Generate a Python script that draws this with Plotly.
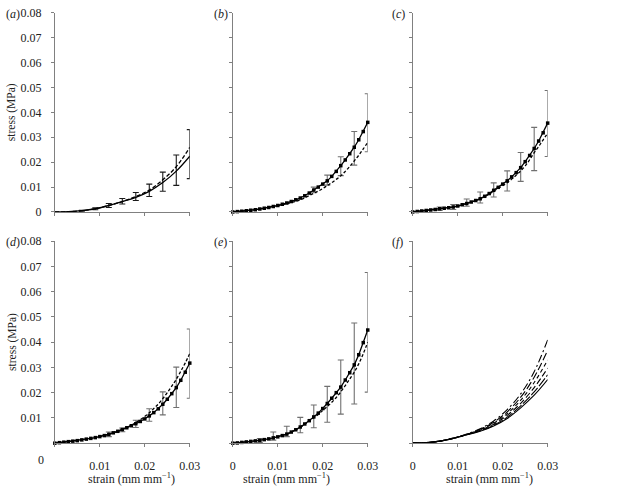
import plotly.graph_objects as go

W, H = 633, 490

# ---------------- data ----------------
strain_fine = [round(0.001 * i, 3) for i in range(31)]          # 0 .. 0.03 step 0.001
strain_coarse = [round(0.003 * i, 3) for i in range(11)]        # 0 .. 0.03 step 0.003

# (a) curves on coarse grid
a_solid = [0, 0.0001, 0.0005, 0.0013, 0.0026, 0.0042, 0.0059, 0.0083, 0.0118, 0.0164, 0.0224]
a_dashed = [0, 0.0001, 0.0005, 0.0013, 0.0026, 0.0042, 0.0062, 0.0088, 0.0129, 0.0182, 0.0260]
a_err_x = [0.006, 0.009, 0.012, 0.015, 0.018, 0.021, 0.024, 0.027, 0.030]
a_err_c = [0.0005, 0.0013, 0.0026, 0.0042, 0.0060, 0.0084, 0.0121, 0.0168, 0.0232]
a_err_top = [0.0007, 0.0017, 0.0034, 0.0054, 0.0078, 0.0112, 0.0160, 0.0229, 0.0331]
a_err_bot = [0.0003, 0.0009, 0.0018, 0.0032, 0.0046, 0.0062, 0.0083, 0.0107, 0.0134]

# (b)
b_solid = [0, 0.00015, 0.0003, 0.0005, 0.0007, 0.0009, 0.0012, 0.0015, 0.0018, 0.0022, 0.0026,
           0.0031, 0.0036, 0.0042, 0.0049, 0.0056, 0.0065, 0.0076, 0.0088, 0.0100, 0.0112,
           0.0125, 0.0143, 0.0163, 0.0186, 0.0209, 0.0234, 0.0260, 0.0290, 0.0323, 0.0360]
b_dashed = [0, 0.00015, 0.0003, 0.0005, 0.0007, 0.0009, 0.0012, 0.0015, 0.0018, 0.0021, 0.0025,
            0.0029, 0.0033, 0.0038, 0.0043, 0.0049, 0.0057, 0.0066, 0.0075, 0.0084, 0.0094,
            0.0106, 0.0118, 0.0131, 0.0145, 0.0163, 0.0183, 0.0205, 0.0228, 0.0253, 0.0280]
b_err_x = [0.018, 0.021, 0.024, 0.027, 0.030]
b_err_c = [0.0088, 0.0128, 0.0186, 0.0258, 0.0360]
b_err_top = [0.0100, 0.0148, 0.0222, 0.0323, 0.0475]
b_err_bot = [0.0077, 0.0108, 0.0146, 0.0188, 0.0242]

# (c)
c_solid = [0, 0.0002, 0.0004, 0.0006, 0.0008, 0.0010, 0.0013, 0.0015, 0.0017, 0.0020, 0.0024,
           0.0029, 0.0034, 0.0040, 0.0046, 0.0053, 0.0063, 0.0074, 0.0087, 0.0099, 0.0112,
           0.0125, 0.0141, 0.0158, 0.0178, 0.0202, 0.0227, 0.0255, 0.0285, 0.0318, 0.0357]
c_dashed = [0, 0.0002, 0.0004, 0.0006, 0.0008, 0.0010, 0.0013, 0.0015, 0.0017, 0.0020, 0.0024,
            0.0029, 0.0034, 0.0040, 0.0046, 0.0053, 0.0062, 0.0072, 0.0084, 0.0095, 0.0106,
            0.0118, 0.0132, 0.0148, 0.0165, 0.0185, 0.0210, 0.0238, 0.0263, 0.0290, 0.0316]
c_err_x = [0.006, 0.009, 0.012, 0.015, 0.018, 0.021, 0.024, 0.027, 0.030]
c_err_c = [0.0013, 0.0020, 0.0035, 0.0053, 0.0087, 0.0125, 0.0178, 0.0255, 0.0357]
c_err_top = [0.0020, 0.0030, 0.0052, 0.0080, 0.0117, 0.0165, 0.0239, 0.0340, 0.0488]
c_err_bot = [0.0006, 0.0010, 0.0023, 0.0036, 0.0060, 0.0084, 0.0123, 0.0166, 0.0223]

# (d)
d_solid = [0, 0.0002, 0.0004, 0.0006, 0.0008, 0.0010, 0.0013, 0.0016, 0.0019, 0.0022, 0.0026,
           0.0030, 0.0035, 0.0041, 0.0047, 0.0054, 0.0061, 0.0069, 0.0077, 0.0086, 0.0096,
           0.0108, 0.0121, 0.0136, 0.0154, 0.0174, 0.0196, 0.0220, 0.0249, 0.0281, 0.0317]
d_dashed = [0, 0.0002, 0.0004, 0.0006, 0.0008, 0.0010, 0.0013, 0.0016, 0.0019, 0.0022, 0.0026,
            0.0030, 0.0035, 0.0041, 0.0047, 0.0054, 0.0062, 0.0071, 0.0082, 0.0093, 0.0106,
            0.0120, 0.0137, 0.0155, 0.0176, 0.0200, 0.0226, 0.0253, 0.0285, 0.0318, 0.0355]
d_err_x = [0.012, 0.015, 0.018, 0.021, 0.024, 0.027, 0.030]
d_err_c = [0.0035, 0.0054, 0.0077, 0.0108, 0.0154, 0.0220, 0.0317]
d_err_top = [0.0044, 0.0060, 0.0091, 0.0136, 0.0203, 0.0301, 0.0452]
d_err_bot = [0.0026, 0.0045, 0.0062, 0.0087, 0.0112, 0.0141, 0.0178]

# (e)
e_solid = [0, 0.0001, 0.0003, 0.0005, 0.0007, 0.0009, 0.0011, 0.0014, 0.0017, 0.0021, 0.0025,
           0.0030, 0.0036, 0.0044, 0.0053, 0.0064, 0.0076, 0.0089, 0.0104, 0.0119, 0.0137,
           0.0157, 0.0178, 0.0200, 0.0222, 0.0250, 0.0279, 0.0310, 0.0350, 0.0398, 0.0448]
e_dashed = [0, 0.0001, 0.0003, 0.0005, 0.0007, 0.0009, 0.0011, 0.0014, 0.0017, 0.0021, 0.0025,
            0.0030, 0.0036, 0.0044, 0.0053, 0.0063, 0.0075, 0.0088, 0.0101, 0.0114, 0.0129,
            0.0145, 0.0162, 0.0181, 0.0203, 0.0228, 0.0254, 0.0281, 0.0314, 0.0354, 0.0400]
e_err_x = [0.006, 0.009, 0.012, 0.015, 0.018, 0.021, 0.024, 0.027, 0.030]
e_err_c = [0.0010, 0.0022, 0.0035, 0.0066, 0.0105, 0.0158, 0.0222, 0.0308, 0.0448]
e_err_top = [0.0018, 0.0044, 0.0067, 0.0102, 0.0151, 0.0225, 0.0329, 0.0476, 0.0676]
e_err_bot = [0.0003, 0.0012, 0.0026, 0.0041, 0.0061, 0.0083, 0.0115, 0.0155, 0.0202]

# (f) six fitted curves on coarse grid
f_curves = [
    [0, 0.0002, 0.0008, 0.0020, 0.0033, 0.0047, 0.0068, 0.0098, 0.0140, 0.0190, 0.0252],
    [0, 0.0002, 0.0008, 0.0019, 0.0033, 0.0049, 0.0071, 0.0103, 0.0148, 0.0203, 0.0271],
    [0, 0.0002, 0.0008, 0.0019, 0.0034, 0.0051, 0.0075, 0.0110, 0.0158, 0.0220, 0.0297],
    [0, 0.0002, 0.0008, 0.0019, 0.0034, 0.0053, 0.0079, 0.0117, 0.0170, 0.0240, 0.0329],
    [0, 0.0002, 0.0008, 0.0019, 0.0035, 0.0055, 0.0083, 0.0124, 0.0182, 0.0261, 0.0368],
    [0, 0.0002, 0.0008, 0.0019, 0.0036, 0.0057, 0.0088, 0.0133, 0.0195, 0.0283, 0.0409],
]
f_dashes = ["solid", "10px,2px", "6px,3px", "4px,3px", "8px,3px", "8px,3px,2px,3px"]

x_ticks = [0, 0.01, 0.02, 0.03]
x_ticktext = ["0", "0.01", "0.02", "0.03"]
y_ticks = [0, 0.01, 0.02, 0.03, 0.04, 0.05, 0.06, 0.07, 0.08]
y_ticktext = ["0", "0.01", "0.02", "0.03", "0.04", "0.05", "0.06", "0.07", "0.08"]
panel_labels = ["a", "b", "c", "d", "e", "f"]
y_title = "stress (MPa)"
x_title = "strain (mm mm<sup>−1</sup>)"

# ---------------- layout helpers ----------------
FONT = "Liberation Serif, Times New Roman, serif"
AXIS_COL = "#808080"
ERR_COL = "#707070"

def px(x):
    return x / W

def py(y):
    return 1 - y / H

col_px = [(53, 191), (235, 373), (419, 557)]
row_px = [(6, 211), (241, 449)]

fig = go.Figure()

def ax_name(i, kind):
    return kind if i == 1 else f"{kind}{i}"

def add_line(i, x, y, dash, shape="linear", markers=False):
    fig.add_trace(go.Scatter(
        x=x, y=y, mode="lines+markers" if markers else "lines",
        line=dict(color="black", width=1.3, dash=dash, shape=shape),
        marker=dict(symbol="square", size=3.5, color="black"),
        xaxis=ax_name(i, "x"), yaxis=ax_name(i, "y"),
        showlegend=False, cliponaxis=False, hoverinfo="skip"))

def add_err(i, x, c, top, bot, color):
    fig.add_trace(go.Scatter(
        x=x, y=c, mode="markers",
        marker=dict(size=1, color="rgba(0,0,0,0)"),
        error_y=dict(type="data", symmetric=False,
                     array=[t - m for t, m in zip(top, c)],
                     arrayminus=[m - b for m, b in zip(c, bot)],
                     color=color, thickness=1.1, width=3),
        xaxis=ax_name(i, "x"), yaxis=ax_name(i, "y"),
        showlegend=False, cliponaxis=False, hoverinfo="skip"))

# (a)
add_err(1, a_err_x, a_err_c, a_err_top, a_err_bot, "#1a1a1a")
add_line(1, strain_coarse, a_dashed, "4px,2px", shape="spline")
add_line(1, strain_coarse, a_solid, "solid", shape="spline")

# (b)-(e)
for i, (sol, dsh, ex, ec, et, eb) in zip(
        [2, 3, 4, 5],
        [(b_solid, b_dashed, b_err_x, b_err_c, b_err_top, b_err_bot),
         (c_solid, c_dashed, c_err_x, c_err_c, c_err_top, c_err_bot),
         (d_solid, d_dashed, d_err_x, d_err_c, d_err_top, d_err_bot),
         (e_solid, e_dashed, e_err_x, e_err_c, e_err_top, e_err_bot)]):
    add_err(i, ex, ec, et, eb, ERR_COL)
    add_line(i, strain_fine, dsh, "3px,2px", shape="spline")
    add_line(i, strain_fine, sol, "solid", markers=True)

# (f)
for curve, dash in zip(f_curves, f_dashes):
    fig.add_trace(go.Scatter(
        x=strain_coarse, y=curve, mode="lines",
        line=dict(color="black", width=1.1, dash=dash, shape="spline"),
        xaxis="x6", yaxis="y6", showlegend=False, hoverinfo="skip"))

layout = dict(
    width=W, height=H,
    margin=dict(l=0, r=0, t=0, b=0),
    paper_bgcolor="white", plot_bgcolor="white",
    font=dict(family=FONT, size=12, color="#222"),
    showlegend=False,
)

annotations = []
for idx in range(6):
    i = idx + 1
    r, c = divmod(idx, 3)
    x0, x1 = col_px[c]
    y0, y1 = row_px[r]
    xa = dict(
        domain=[px(x0), px(x1)], range=[0, 0.03], anchor=ax_name(i, "y"),
        showline=True, linecolor=AXIS_COL, linewidth=1,
        ticks="outside", ticklen=3, tickcolor=AXIS_COL, tickwidth=1,
        tickvals=x_ticks, ticktext=x_ticktext if not (i == 4) else ["", "0.01", "0.02", "0.03"],
        showticklabels=(r == 1), ticklabelstandoff=8,
        showgrid=False, zeroline=False, fixedrange=True,
        tickfont=dict(family=FONT, size=12, color="#222"),
    )
    ya = dict(
        domain=[py(y1), py(y0)], range=[0, 0.08], anchor=ax_name(i, "x"),
        showline=True, linecolor=AXIS_COL, linewidth=1,
        ticks="outside", ticklen=3, tickcolor=AXIS_COL, tickwidth=1,
        tickvals=y_ticks if i != 4 else y_ticks[1:],
        ticktext=y_ticktext if i != 4 else y_ticktext[1:],
        showticklabels=(c == 0), ticklabelstandoff=7,
        showgrid=False, zeroline=False, fixedrange=True,
        tickfont=dict(family=FONT, size=12, color="#222"),
    )
    layout[ax_name(i, "xaxis")] = xa
    layout[ax_name(i, "yaxis")] = ya

    lab_x = [1, 214, 396][c]
    annotations.append(dict(
        text=f"(<i>{panel_labels[idx]}</i>)", x=px(lab_x), y=py(y0 + 1),
        xref="paper", yref="paper", xanchor="left", yanchor="middle",
        showarrow=False, font=dict(family=FONT, size=12, color="#222")))

# y titles
for (y0, y1) in row_px:
    annotations.append(dict(
        text=y_title, x=px(9), y=py((y0 + y1) / 2), textangle=-90,
        xref="paper", yref="paper", xanchor="center", yanchor="middle",
        showarrow=False, font=dict(family=FONT, size=11.5, color="#222")))

# x titles
for xc in [131, 290, 498]:
    annotations.append(dict(
        text=x_title, x=px(xc), y=py(495),
        xref="paper", yref="paper", xanchor="center", yanchor="bottom",
        showarrow=False, font=dict(family=FONT, size=12, color="#222")))

# shifted "0" in panel (d)
annotations.append(dict(
    text="0", x=px(39), y=py(466), xref="paper", yref="paper",
    xanchor="center", yanchor="middle", showarrow=False,
    font=dict(family=FONT, size=12, color="#222")))

layout["annotations"] = annotations
fig.update_layout(**layout)

fig.write_html("out.html", config={"displayModeBar": False},
               post_script="document.body.style.margin='0px';")
